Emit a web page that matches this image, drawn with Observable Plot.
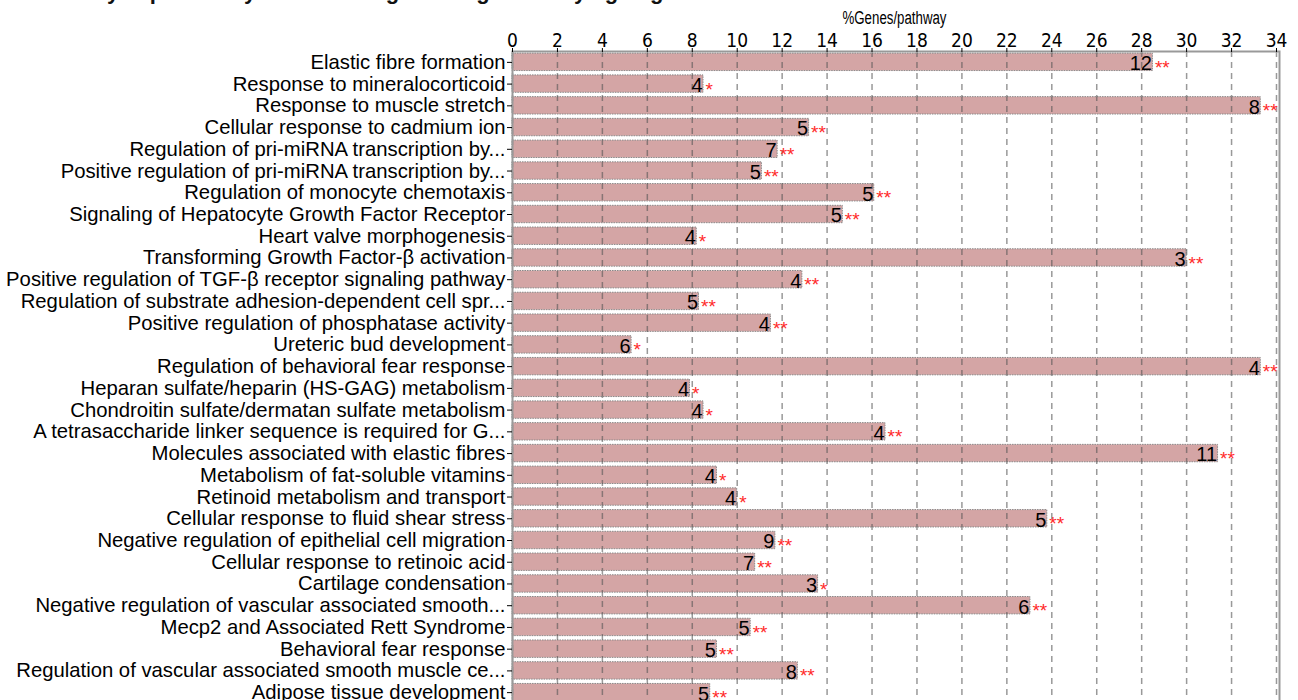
<!DOCTYPE html>
<html><head><meta charset="utf-8">
<script src="https://cdn.jsdelivr.net/npm/d3@7"></script>
<script src="https://cdn.jsdelivr.net/npm/@observablehq/plot@0.6"></script>
<style>
body{margin:0;background:#fff;overflow:hidden;font-family:"Liberation Sans",Arial,sans-serif}
#title{position:absolute;left:30px;top:-21px;font:bold 22px "Liberation Sans",Arial,sans-serif;white-space:nowrap;color:#111}
#chart{position:absolute;left:0;top:0}
</style></head><body>
<div id="chart"></div>
<div id="title">Pathways specifically enriched in genes regulated by ageing</div>
<script>
const pathways = [
  "Elastic fibre formation",
  "Response to mineralocorticoid",
  "Response to muscle stretch",
  "Cellular response to cadmium ion",
  "Regulation of pri-miRNA transcription by...",
  "Positive regulation of pri-miRNA transcription by...",
  "Regulation of monocyte chemotaxis",
  "Signaling of Hepatocyte Growth Factor Receptor",
  "Heart valve morphogenesis",
  "Transforming Growth Factor-\u03b2 activation",
  "Positive regulation of TGF-\u03b2 receptor signaling pathway",
  "Regulation of substrate adhesion-dependent cell spr...",
  "Positive regulation of phosphatase activity",
  "Ureteric bud development",
  "Regulation of behavioral fear response",
  "Heparan sulfate/heparin (HS-GAG) metabolism",
  "Chondroitin sulfate/dermatan sulfate metabolism",
  "A tetrasaccharide linker sequence is required for G...",
  "Molecules associated with elastic fibres",
  "Metabolism of fat-soluble vitamins",
  "Retinoid metabolism and transport",
  "Cellular response to fluid shear stress",
  "Negative regulation of epithelial cell migration",
  "Cellular response to retinoic acid",
  "Cartilage condensation",
  "Negative regulation of vascular associated smooth...",
  "Mecp2 and Associated Rett Syndrome",
  "Behavioral fear response",
  "Regulation of vascular associated smooth muscle ce...",
  "Adipose tissue development"
];
const percents = [28.5, 8.5, 33.3, 13.2, 11.8, 11.1, 16.1, 14.7, 8.2, 30.0,
                  12.9, 8.3, 11.5, 5.3, 33.3, 7.9, 8.5, 16.6, 31.4, 9.1,
                  10.0, 23.8, 11.7, 10.8, 13.6, 23.05, 10.6, 9.1, 12.7, 8.8];
const geneCounts = [12, 4, 8, 5, 7, 5, 5, 5, 4, 3,
                    4, 5, 4, 6, 4, 4, 4, 4, 11, 4,
                    4, 5, 9, 7, 3, 6, 5, 5, 8, 5];
const significance = ["**","*","**","**","**","**","**","**","*","**",
                      "**","**","**","*","**","*","*","**","**","*",
                      "*","**","**","**","*","**","**","**","**","**"];
const xTicks = d3.range(0, 35, 2);

const data = pathways.map((p, i) => ({pathway: p, pct: percents[i], n: geneCounts[i], sig: significance[i]}));

const chart = Plot.plot({
  width: 1298,
  height: 705,
  marginTop: 51,
  marginLeft: 512,
  marginRight: 22,
  marginBottom: 2,
  style: {fontFamily: "'Liberation Sans', Arial, sans-serif", fontSize: "20px", color: "#000", background: "#fff"},
  x: {domain: [0, 34]},
  y: {domain: pathways, paddingInner: 0.2, paddingOuter: 0.1, round: false},
  marks: [
    Plot.barX(data, {x: "pct", y: "pathway", fill: "#d4a5a5", stroke: "#8a8a8a", strokeWidth: 1, strokeDasharray: "1.5,1"}),
    Plot.gridX(xTicks, {stroke: "#555", strokeOpacity: 0.6, strokeWidth: 1.5, strokeDasharray: "6,5"}),
    Plot.frame({stroke: "#999", strokeWidth: 2, insetRight: -3}),
    Plot.axisX({anchor: "top", ticks: xTicks, tickSize: 4, tickPadding: 1, fontSize: 19,
                fontFamily: "'Liberation Sans Narrow', 'DejaVu Sans Condensed', sans-serif",
                label: null}),
    Plot.axisX({anchor: "top", ticks: [], tickSize: 0, fontSize: 17,
                label: "%Genes/pathway", labelAnchor: "center", labelArrow: "none", labelOffset: 40}),
    Plot.axisY({tickSize: 5, tickPadding: 2, fontSize: 20.3, label: null}),
    Plot.text(data, {x: "pct", y: "pathway", text: "n", textAnchor: "end", dx: -1, dy: 1.5, fontSize: 20, fill: "#000"}),
    Plot.text(data, {x: "pct", y: "pathway", text: "sig", textAnchor: "start", dx: 2, dy: 5.5, fontSize: 19, fill: "#ff2a2a"})
  ]
});
d3.select(chart).selectAll('g[aria-label="x-axis label"] text')
  .style("font-size", "18px")
  .attr("textLength", 104).attr("lengthAdjust", "spacingAndGlyphs");
document.getElementById("chart").appendChild(chart);
</script>
</body></html>
